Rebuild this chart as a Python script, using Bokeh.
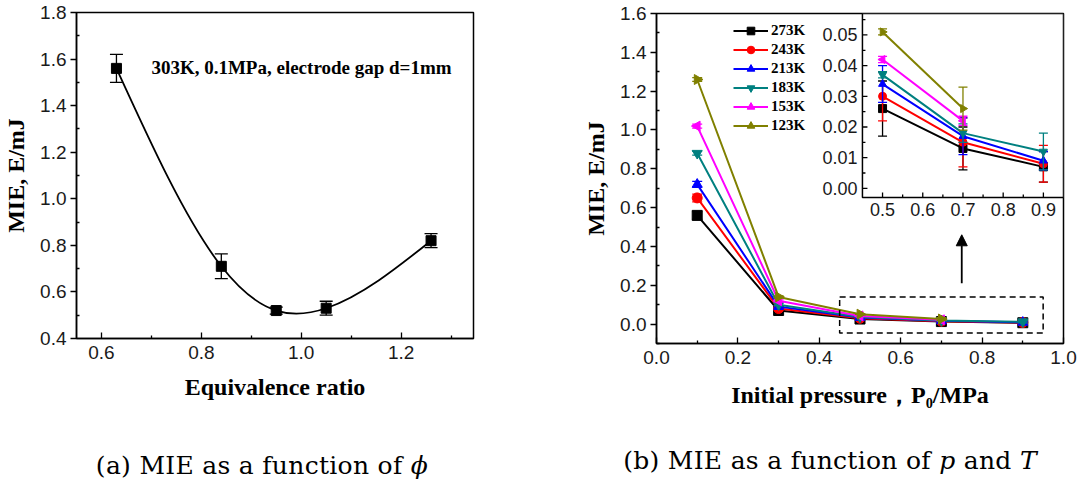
import numpy as np
from bokeh.plotting import figure
from bokeh.layouts import row, column
from bokeh.models import (Range1d, FixedTicker, PrintfTickFormatter, Legend, Div,
                          LegendItem, BoxAnnotation, Arrow, NormalHead)
from bokeh.core.properties import value
from bokeh.embed import file_html
from bokeh.resources import INLINE

# ---------------- data (a) ----------------
phi = [0.63, 0.84, 0.95, 1.05, 1.26]
mie_phi = [1.56, 0.71, 0.52, 0.53, 0.82]
mie_phi_err = [0.06, 0.053, 0.015, 0.03, 0.03]

# ---------------- data (b) ----------------
pressure = [0.1, 0.3, 0.5, 0.7, 0.9]
temp_labels = ["273K", "243K", "213K", "183K", "153K", "123K"]
mie_273 = [0.56, 0.07, 0.026, 0.013, 0.007]
err_273 = [0.02, 0.005, 0.009, 0.007, 0.005]
mie_243 = [0.65, 0.08, 0.030, 0.015, 0.008]
err_243 = [0.02, 0.005, 0.008, 0.008, 0.006]
mie_213 = [0.72, 0.09, 0.034, 0.017, 0.009]
err_213 = [0.015, 0.005, 0.006, 0.006, 0.003]
mie_183 = [0.88, 0.10, 0.037, 0.018, 0.012]
err_183 = [0.01, 0.005, 0.001, 0.003, 0.006]
mie_153 = [1.02, 0.12, 0.042, 0.022]
err_153 = [0.01, 0.005, 0.001, 0.0015]
mie_123 = [1.26, 0.14, 0.051, 0.026]
err_123 = [0.01, 0.005, 0.001, 0.007]

# ---------------- ticks ----------------
a_xticks = [0.6, 0.8, 1.0, 1.2]
a_xminor = [0.7, 0.9, 1.1, 1.3]
a_yticks = [0.4, 0.6, 0.8, 1.0, 1.2, 1.4, 1.6, 1.8]
a_yminor = [0.5, 0.7, 0.9, 1.1, 1.3, 1.5, 1.7]
b_xticks = [0.0, 0.2, 0.4, 0.6, 0.8, 1.0]
b_xminor = [0.1, 0.3, 0.5, 0.7, 0.9]
b_yticks = [0.0, 0.2, 0.4, 0.6, 0.8, 1.0, 1.2, 1.4, 1.6]
b_yminor = [-0.1, 0.1, 0.3, 0.5, 0.7, 0.9, 1.1, 1.3, 1.5]
inset_xticks = [0.5, 0.6, 0.7, 0.8, 0.9]
inset_xminor = [0.55, 0.65, 0.75, 0.85]
inset_yticks = [0.0, 0.01, 0.02, 0.03, 0.04, 0.05]
inset_yminor = [0.005, 0.015, 0.025, 0.035, 0.045, 0.055]

SERIF = "Liberation Serif"
SANS = "Liberation Sans"
TICK_COLOR = "#1a1a1a"


def style(p, xt, xm, yt, ym, fmt_x, fmt_y):
    for ax, t, m, f in ((p.xaxis[0], xt, xm, fmt_x), (p.yaxis[0], yt, ym, fmt_y)):
        ax.ticker = FixedTicker(ticks=t, minor_ticks=m)
        ax.formatter = PrintfTickFormatter(format=f)
        ax.axis_line_color = "black"
        ax.axis_line_width = 1.5
        ax.major_tick_line_color = "black"
        ax.minor_tick_line_color = "black"
        ax.major_tick_line_width = 1.3
        ax.minor_tick_line_width = 1.3
        ax.major_label_text_font = SANS
        ax.major_label_text_font_size = "19px"
        ax.major_label_text_color = TICK_COLOR
        ax.axis_label_text_font = SERIF
        ax.axis_label_text_font_style = "bold"
        ax.axis_label_text_font_size = "24px"
        ax.axis_label_text_color = "black"
    p.xaxis.major_tick_in = 6
    p.xaxis.major_tick_out = 0
    p.xaxis.minor_tick_in = 3
    p.xaxis.minor_tick_out = 0
    p.yaxis.major_tick_in = 0
    p.yaxis.major_tick_out = 6
    p.yaxis.minor_tick_in = 3
    p.yaxis.minor_tick_out = 0
    p.xaxis.major_label_standoff = 7
    p.yaxis.major_label_standoff = 4
    p.xgrid.visible = False
    p.ygrid.visible = False
    p.outline_line_color = "black"
    p.outline_line_width = 1.5
    p.outline_line_alpha = 1.0


CAPTION_STYLE = ("font-family:'DejaVu Serif';font-size:25px;line-height:30px;"
                 "color:black;text-align:center;white-space:nowrap;letter-spacing:0.3px;"
                 "box-sizing:border-box;margin:0;")

# ================= figure (a) =================
p1 = figure(width=540, height=420, output_backend="svg", toolbar_location=None,
            x_range=Range1d(0.55, 1.345), y_range=Range1d(0.4, 1.8),
            min_border_left=74, min_border_right=67, min_border_top=12,
            min_border_bottom=82)
style(p1, a_xticks, a_xminor, a_yticks, a_yminor, "%.1f", "%.1f")
p1.xaxis.axis_label = "Equivalence ratio"
p1.yaxis.axis_label = "MIE, E/mJ"
p1.xaxis.axis_label_standoff = 12
p1.yaxis.axis_label_standoff = 8

# smooth curve through the points (natural cubic spline as bezier segments)
x = np.array(phi)
y = np.array(mie_phi)
n = len(x)
h = np.diff(x)
A = np.zeros((n, n))
b = np.zeros(n)
A[0, 0] = A[-1, -1] = 1.0
for i in range(1, n - 1):
    A[i, i - 1] = h[i - 1]
    A[i, i] = 2 * (h[i - 1] + h[i])
    A[i, i + 1] = h[i]
    b[i] = 6 * ((y[i + 1] - y[i]) / h[i] - (y[i] - y[i - 1]) / h[i - 1])
M = np.linalg.solve(A, b)
d = np.zeros(n)
for i in range(n - 1):
    d[i] = (y[i + 1] - y[i]) / h[i] - h[i] * (2 * M[i] + M[i + 1]) / 6
d[-1] = (y[-1] - y[-2]) / h[-1] + h[-1] * (M[-2] + 2 * M[-1]) / 6
p1.bezier(x0=x[:-1], y0=y[:-1], x1=x[1:], y1=y[1:],
          cx0=x[:-1] + h / 3, cy0=y[:-1] + d[:-1] * h / 3,
          cx1=x[1:] - h / 3, cy1=y[1:] - d[1:] * h / 3,
          line_color="black", line_width=1.8)

e = np.array(mie_phi_err)
p1.segment(x0=x, y0=y - e, x1=x, y1=y + e, line_color="black", line_width=1.3)
p1.scatter(x=np.concatenate([x, x]), y=np.concatenate([y - e, y + e]), marker="dash",
           size=13, line_color="black", line_width=1.3)
p1.scatter(x=x, y=y, marker="square", size=10, fill_color="black", line_color="black")

p1.text(x=[0.70], y=[1.563], text=["303K, 0.1MPa, electrode gap d=1mm"],
        text_font=value(SERIF), text_font_style="bold", text_font_size="19px",
        text_baseline="middle", text_align="left", text_color="black")

cap1 = Div(text=f'<div style="{CAPTION_STYLE}width:540px;padding-top:31px;padding-right:16px;">'
                '(a) MIE as a function of <i>ϕ</i></div>',
           width=540, height=64, margin=0)

# ================= figure (b) =================
p2 = figure(width=541, height=420, output_backend="svg", toolbar_location=None,
            x_range=Range1d(0.0, 1.0), y_range=Range1d(-0.1, 1.6),
            min_border_left=116, min_border_right=18, min_border_top=13,
            min_border_bottom=77)
style(p2, b_xticks, b_xminor, b_yticks, b_yminor, "%.1f", "%.1f")
p2.xaxis.axis_label = "Initial pressure，P₀/MPa"
p2.yaxis.axis_label = "MIE, E/mJ"
p2.xaxis.axis_label_standoff = 15
p2.yaxis.axis_label_standoff = 8

series = [
    ("273K", mie_273, err_273, "black", "square", 0.0),
    ("243K", mie_243, err_243, "#ff0000", "circle", 0.0),
    ("213K", mie_213, err_213, "#0000ff", "triangle", 0.0),
    ("183K", mie_183, err_183, "#008080", "inverted_triangle", 0.0),
    ("153K", mie_153, err_153, "#ff00ff", "triangle", np.pi / 2),
    ("123K", mie_123, err_123, "#808000", "triangle", -np.pi / 2),
]

# inset coordinate system
ins = p2.subplot(x_source=Range1d(0.45, 0.95), y_source=Range1d(-0.003, 0.057),
                 x_target=Range1d(0.506, 1.0), y_target=Range1d(0.652, 1.6))

items = []
for label, vals, errs, col, mk, ang in series:
    xs = np.array(pressure[:len(vals)])
    ys = np.array(vals)
    es = np.array(errs)
    rl = p2.line(xs, ys, line_color=col, line_width=2)
    p2.segment(x0=xs, y0=ys - es, x1=xs, y1=ys + es, line_color=col, line_width=1.3)
    p2.scatter(x=np.concatenate([xs, xs]), y=np.concatenate([ys - es, ys + es]),
               marker="dash", size=10, line_color=col, line_width=1.3)
    rs = p2.scatter(xs, ys, marker=mk, angle=ang, size=10, fill_color=col, line_color=col)
    items.append(LegendItem(label=label, renderers=[rl, rs]))

p2.add_layout(BoxAnnotation(left=0.45, right=0.95, bottom=-0.046, top=0.14,
                            fill_alpha=0, line_color="black", line_alpha=1.0,
                            line_width=1.5, line_dash="6 4"))
p2.add_layout(Arrow(end=NormalHead(size=11, fill_color="black", line_color="black"),
                    x_start=0.75, y_start=0.21, x_end=0.75, y_end=0.46,
                    line_color="black", line_width=1.8))

legend = Legend(items=items, location=(77, 208), padding=0, margin=0, spacing=0,
                border_line_color=None, background_fill_alpha=0,
                label_height=19, glyph_height=19, glyph_width=35, label_standoff=3,
                label_text_font=SERIF, label_text_font_style="bold",
                label_text_font_size="15px", label_text_color="black")
p2.add_layout(legend)

# ---- inset drawing ----
ins.quad(left=[0.45], right=[0.95], bottom=[-0.003], top=[0.057],
         fill_color="white", line_color="black", line_width=1.5)
for label, vals, errs, col, mk, ang in series:
    k = len(vals) - 2
    xs = np.array(pressure[2:2 + k])
    ys = np.array(vals[2:])
    es = np.array(errs[2:])
    ins.line(xs, ys, line_color=col, line_width=2)
    ins.segment(x0=xs, y0=ys - es, x1=xs, y1=ys + es, line_color=col, line_width=1.3)
    ins.scatter(x=np.concatenate([xs, xs]), y=np.concatenate([ys - es, ys + es]),
                marker="dash", size=9, line_color=col, line_width=1.3)
    ins.scatter(xs, ys, marker=mk, angle=ang, size=8, fill_color=col, line_color=col)

ins.ray(x=[0.45] * len(inset_yticks), y=inset_yticks, length=5, angle=0,
        length_units="screen", line_color="black", line_width=1.3)
ins.ray(x=[0.45] * len(inset_yminor), y=inset_yminor, length=3, angle=0,
        length_units="screen", line_color="black", line_width=1.3)
ins.ray(x=inset_xticks, y=[-0.003] * len(inset_xticks), length=5, angle=np.pi / 2,
        length_units="screen", line_color="black", line_width=1.3)
ins.ray(x=inset_xminor, y=[-0.003] * len(inset_xminor), length=3, angle=np.pi / 2,
        length_units="screen", line_color="black", line_width=1.3)
ins.text(x=[0.45] * len(inset_yticks), y=inset_yticks,
         text=["%.2f" % v for v in inset_yticks], x_offset=-5,
         text_align="right", text_baseline="middle", text_font=value(SANS),
         text_font_size="18px", text_color=TICK_COLOR)
ins.text(x=inset_xticks, y=[-0.003] * len(inset_xticks),
         text=["%.1f" % v for v in inset_xticks], y_offset=5,
         text_align="center", text_baseline="top", text_font=value(SANS),
         text_font_size="18px", text_color=TICK_COLOR)

cap2 = Div(text=f'<div style="{CAPTION_STYLE}width:541px;padding-top:26px;padding-left:39px;">'
                '(b) MIE as a function of <i>p</i> and <i>T</i></div>',
           width=541, height=64, margin=0)

layout = row(column(p1, cap1, spacing=0), column(p2, cap2, spacing=0), spacing=0)
open("out.html", "w").write(file_html(layout, INLINE))
